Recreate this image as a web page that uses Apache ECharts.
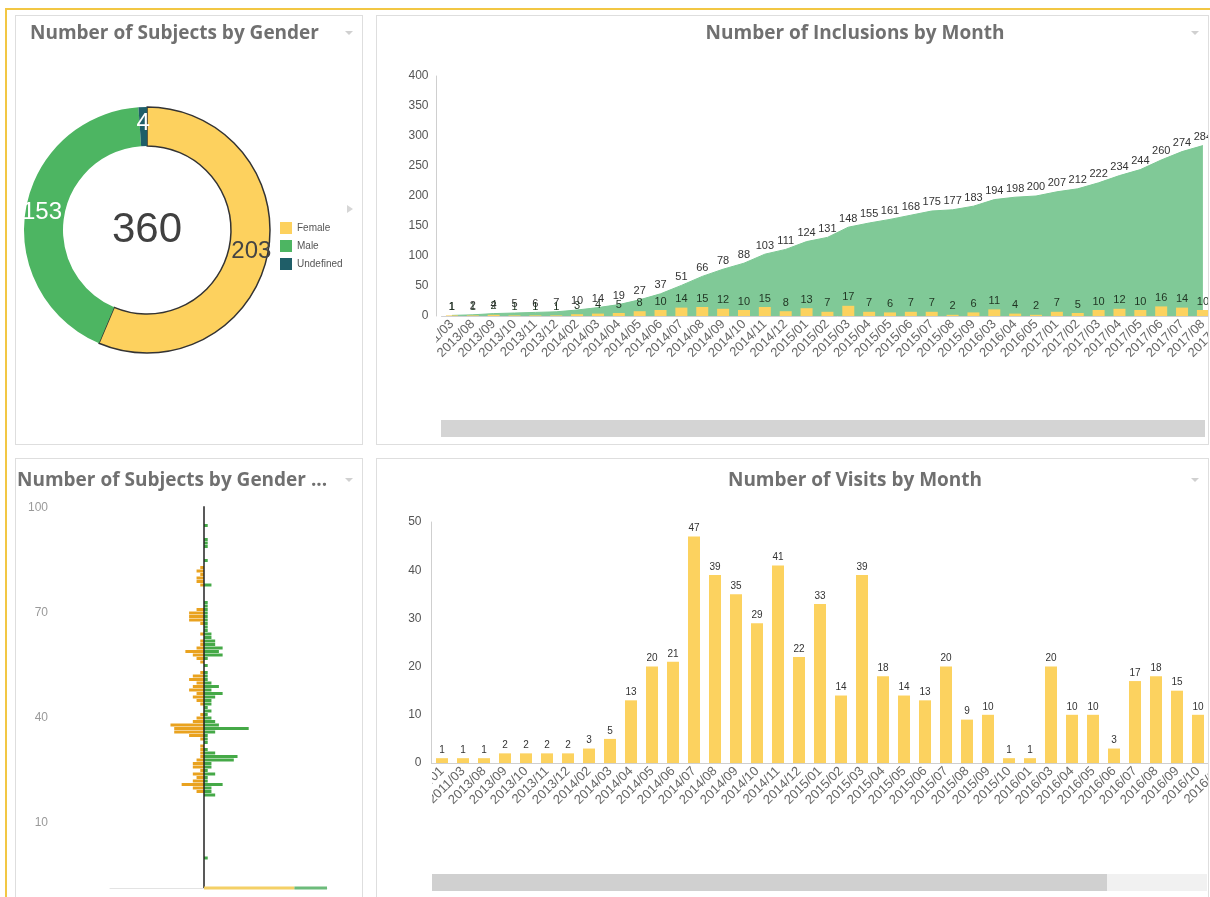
<!DOCTYPE html>
<html>
<head>
<meta charset="utf-8">
<script src="https://cdn.jsdelivr.net/npm/echarts@6/dist/echarts.min.js"></script>
<style>
  html, body { margin: 0; padding: 0; background: #fff; }
  body { width: 1210px; height: 897px; overflow: hidden; position: relative; font-family: "Liberation Sans", Arial, sans-serif; }
  .frame { position: absolute; left: 5px; top: 8px; width: 1230px; height: 920px; border-left: 2px solid #F2C744; border-top: 2px solid #F2C744; }
  .panel { position: absolute; border: 1px solid #dedede; overflow: hidden; background: #fff; }
  .chart { position: absolute; left: 0; top: 0; }
</style>
</head>
<body>
<div class="frame"></div>
<div class="panel" style="left:15px;top:15px;width:346px;height:428px;">
  <div id="gender" class="chart" style="width:346px;height:428px;"></div>
</div>
<div class="panel" style="left:376px;top:15px;width:831px;height:428px;">
  <div id="inclusions" class="chart" style="width:956px;height:428px;"></div>
</div>
<div class="panel" style="left:15px;top:458px;width:346px;height:470px;">
  <div id="pyramid" class="chart" style="width:346px;height:470px;"></div>
</div>
<div class="panel" style="left:376px;top:458px;width:831px;height:470px;">
  <div id="visits" class="chart" style="width:956px;height:470px;"></div>
</div>

<script>
// ---- Subjects by gender ----
const genderNames = ['Female', 'Male', 'Undefined'];
const genderCounts = [203, 153, 4];

// ---- Inclusions per month ----
const inclusionMonths = ['2011/03', '2013/08', '2013/09', '2013/10', '2013/11', '2013/12', '2014/02', '2014/03',
  '2014/04', '2014/05', '2014/06', '2014/07', '2014/08', '2014/09', '2014/10', '2014/11', '2014/12', '2015/01',
  '2015/02', '2015/03', '2015/04', '2015/05', '2015/06', '2015/07', '2015/08', '2015/09', '2016/03', '2016/04',
  '2016/05', '2017/01', '2017/02', '2017/03', '2017/04', '2017/05', '2017/06', '2017/07', '2017/08', '2017/09'];
const inclusionsPerMonth = [1, 1, 2, 1, 1, 1, 3, 4, 5, 8, 10, 14, 15, 12, 10, 15, 8, 13, 7, 17, 7, 6, 7, 7, 2, 6,
  11, 4, 2, 7, 5, 10, 12, 10, 16, 14, 10];
const inclusionTicks = { min: 0, max: 400, step: 50 };

// ---- Visits per month ----
const visitMonths = ['2011/01', '2011/03', '2013/08', '2013/09', '2013/10', '2013/11', '2013/12', '2014/02',
  '2014/03', '2014/04', '2014/05', '2014/06', '2014/07', '2014/08', '2014/09', '2014/10', '2014/11', '2014/12',
  '2015/01', '2015/02', '2015/03', '2015/04', '2015/05', '2015/06', '2015/07', '2015/08', '2015/09', '2015/10',
  '2016/01', '2016/03', '2016/04', '2016/05', '2016/06', '2016/07', '2016/08', '2016/09', '2016/10', '2016/11'];
const visitsPerMonth = [1, 1, 1, 2, 2, 2, 2, 3, 5, 13, 20, 21, 47, 39, 35, 29, 41, 22, 33, 14, 39, 18, 14, 13, 20,
  9, 10, 1, 1, 20, 10, 10, 3, 17, 18, 15, 10];
const visitTicks = { min: 0, max: 50, step: 10 };

// ---- Subjects by gender and age (index = age in years, 0..100) ----
const femaleByAge = [
  0, 0, 0, 0, 0, 0, 0, 0, 0, 0,      // 0-9
  0, 0, 0, 0, 0, 0, 0, 0, 0, 2,      // 10-19
  3, 6, 3, 2, 3, 1, 3, 3, 2, 1,      // 20-29
  1, 1, 1, 0, 1, 4, 8, 8, 9, 3,      // 30-39
  2, 1, 0, 0, 1, 2, 3, 2, 4, 3,      // 40-49
  2, 4, 3, 1, 0, 0, 1, 2, 3, 5,      // 50-59
  2, 1, 1, 0, 1, 0, 0, 1, 4, 4,      // 60-69
  4, 2, 0, 0, 0, 0, 0, 0, 1, 2,      // 70-79
  2, 1, 2, 1, 0, 0, 0, 0, 0, 0,      // 80-89
  0, 0, 0, 0, 0, 0, 0, 0, 0, 0,      // 90-99
  0];                                // 100
const maleByAge = [
  1, 0, 0, 0, 0, 0, 0, 0, 0, 0,      // 0-9
  0, 0, 0, 0, 0, 0, 0, 0, 3, 2,      // 10-19
  2, 5, 1, 1, 3, 1, 2, 2, 8, 9,      // 20-29
  3, 1, 0, 1, 1, 1, 3, 12, 4, 3,     // 30-39
  2, 1, 2, 1, 2, 2, 3, 5, 2, 4,      // 40-49
  2, 1, 1, 1, 0, 1, 0, 1, 5, 4,      // 50-59
  5, 3, 3, 2, 2, 1, 1, 1, 1, 1,      // 60-69
  1, 1, 1, 1, 0, 0, 0, 0, 2, 0,      // 70-79
  0, 0, 0, 0, 0, 1, 0, 0, 0, 1,      // 80-89
  1, 1, 0, 0, 0, 1, 0, 0, 0, 0,      // 90-99
  0];                                // 100
const ageTickLabels = [10, 40, 70, 100];
const noAgeFemale = 25;
const noAgeMale = 9;

const TITLE_STYLE = { fontFamily: 'Open Sans', fontWeight: 'bold', fontSize: 19, color: '#707070', lineHeight: 22 };
const LABEL_FONT = 'Liberation Sans';

function chevron(cx, cy) {
  return { type: 'polygon', z: 100, shape: { points: [[cx - 4, cy - 2], [cx + 4, cy - 2], [cx, cy + 2]] },
    style: { fill: '#d0d0d0' } };
}

// ---------- donut ----------
(function () {
  const total = genderCounts.reduce((a, b) => a + b, 0);
  const sliceColors = ['#FDD15E', '#4DB562', '#1F5E68'];
  const labelColors = ['#444444', '#ffffff', '#ffffff'];
  const chart = echarts.init(document.getElementById('gender'), null, { renderer: 'canvas' });
  chart.setOption({
    animation: false,
    title: { text: 'Number of Subjects by Gender', left: 14, top: 7, padding: 0, textStyle: TITLE_STYLE },
    legend: {
      orient: 'vertical', left: 264, top: 206, itemWidth: 12, itemHeight: 12, itemGap: 6, icon: 'rect',
      padding: 0, data: genderNames, itemStyle: { borderWidth: 0 },
      textStyle: { fontSize: 10, color: '#555', fontFamily: LABEL_FONT }
    },
    graphic: [
      { type: 'text', z: 100, style: { text: String(total), x: 131, y: 214, textAlign: 'center', textVerticalAlign: 'middle',
        font: '42px "Liberation Sans"', fill: '#404040' } },
      { type: 'polygon', z: 100, shape: { points: [[331, 189], [337, 193], [331, 197]] }, style: { fill: '#d6d6d6' } },
      chevron(333, 17)
    ],
    series: [{
      type: 'pie', radius: [84, 123], center: [131, 214], startAngle: 90, clockwise: true,
      avoidLabelOverlap: false, labelLine: { show: false },
      label: { show: true, position: 'inside', formatter: '{c}', fontSize: 24, fontFamily: LABEL_FONT },
      emphasis: { disabled: true },
      data: genderNames.map((n, i) => ({
        name: n, value: genderCounts[i],
        itemStyle: i === 0 ? { color: sliceColors[i], borderColor: '#333', borderWidth: 1.5 } : { color: sliceColors[i], borderWidth: 0 },
        label: { color: labelColors[i] }
      }))
    }]
  });
})();

// ---------- inclusions by month ----------
(function () {
  const cumulative = [];
  inclusionsPerMonth.reduce((acc, v) => { acc += v; cumulative.push(acc); return acc; }, 0);
  const chart = echarts.init(document.getElementById('inclusions'), null, { renderer: 'canvas' });
  chart.setOption({
    animation: false,
    title: { text: 'Number of Inclusions by Month', left: 'center', top: 7, padding: 0, textStyle: TITLE_STYLE },
    grid: { left: 64.5, top: 60, width: 792.7, height: 240, containLabel: false, outerBoundsMode: 'none' },
    xAxis: {
      type: 'category', data: inclusionMonths, boundaryGap: true,
      axisLine: { lineStyle: { color: '#cfcfcf' } }, axisTick: { show: false },
      axisLabel: { interval: 0, rotate: 45, fontSize: 13, color: '#666', margin: 6, fontFamily: LABEL_FONT }
    },
    yAxis: {
      type: 'value', min: inclusionTicks.min, max: inclusionTicks.max, interval: inclusionTicks.step, offset: 5,
      axisLine: { show: true, lineStyle: { color: '#cfcfcf' } }, axisTick: { show: false }, splitLine: { show: false },
      axisLabel: { fontSize: 12, color: '#555', margin: 8, fontFamily: LABEL_FONT }
    },
    series: [
      {
        type: 'line', data: cumulative, symbol: 'circle', symbolSize: 0.1, showSymbol: true, showAllSymbol: true,
        itemStyle: { color: 'rgba(0,0,0,0)' },
        lineStyle: { width: 1, color: '#7cc894' }, areaStyle: { color: '#80C997', opacity: 1 },
        label: { show: true, position: 'top', distance: 3, fontSize: 11, color: '#333', fontFamily: LABEL_FONT },
        z: 2, emphasis: { disabled: true }
      },
      {
        type: 'bar', data: inclusionsPerMonth, barWidth: 12, itemStyle: { color: '#FCD25F' },
        label: { show: true, position: 'top', distance: 3, fontSize: 11, color: '#1f3322', fontFamily: LABEL_FONT },
        z: 3, emphasis: { disabled: true }
      }
    ],
    graphic: [
      { type: 'rect', z: 100, shape: { x: 0, y: 308, width: 59, height: 95 }, style: { fill: '#fff' } },
      { type: 'rect', z: 100, shape: { x: 64, y: 404, width: 764, height: 17 }, style: { fill: '#d4d4d4' } },
      chevron(818, 17)
    ]
  });
})();

// ---------- gender by age ----------
(function () {
  const ages = femaleByAge.map((_, i) => String(i));
  const chart = echarts.init(document.getElementById('pyramid'), null, { renderer: 'canvas' });
  chart.setOption({
    animation: false,
    title: { text: 'Number of Subjects by Gender ...', left: 1, top: 11, padding: 0, textStyle: TITLE_STYLE },
    grid: [
      { left: 39, top: 47.25, width: 298, height: 353.5, containLabel: false, outerBoundsMode: 'none' },
      { left: 94, top: 401, width: 217, height: 28, containLabel: false, outerBoundsMode: 'none' }
    ],
    xAxis: [
      { gridIndex: 0, type: 'value', min: -40, max: 40, show: false },
      { gridIndex: 1, type: 'value', min: -26, max: 34, axisLine: { show: true, onZero: false, lineStyle: { color: '#e3e3e3' } },
        axisTick: { show: false }, axisLabel: { show: false }, splitLine: { show: false } }
    ],
    yAxis: [
      { gridIndex: 0, type: 'category', data: ages, axisLine: { show: false }, axisTick: { show: false }, splitLine: { show: false },
        axisLabel: { interval: (i) => ageTickLabels.indexOf(Number(ages[i])) >= 0, color: '#9a9a9a', fontSize: 12, margin: 7, fontFamily: LABEL_FONT } },
      { gridIndex: 1, type: 'category', data: ['', ''], boundaryGap: false,
        axisLine: { show: true, onZero: true, lineStyle: { color: '#222', width: 1.5 } },
        axisTick: { show: false }, axisLabel: { show: false }, splitLine: { show: false } }
    ],
    series: [
      { type: 'bar', name: 'Female', xAxisIndex: 0, yAxisIndex: 0, data: femaleByAge.map(v => -v), barWidth: 3, barGap: '-100%',
        itemStyle: { color: '#E9A21F' }, emphasis: { disabled: true },
        markLine: { silent: true, symbol: ['none', 'none'], label: { show: false }, animation: false,
          lineStyle: { color: '#222', width: 1.5, type: 'solid' }, data: [{ xAxis: 0 }] } },
      { type: 'bar', name: 'Male', xAxisIndex: 0, yAxisIndex: 0, data: maleByAge, barWidth: 3, barGap: '-100%',
        itemStyle: { color: '#45A947' }, emphasis: { disabled: true } },
      { type: 'bar', xAxisIndex: 1, yAxisIndex: 1, stack: 'noAge', data: [noAgeFemale, null], barWidth: 3, clip: false,
        itemStyle: { color: '#F4D066' }, emphasis: { disabled: true } },
      { type: 'bar', xAxisIndex: 1, yAxisIndex: 1, stack: 'noAge', data: [noAgeMale, null], barWidth: 3, clip: false,
        itemStyle: { color: '#6CBB7B' }, emphasis: { disabled: true } }
    ],
    graphic: [chevron(333, 21)]
  });
})();

// ---------- visits by month ----------
(function () {
  const chart = echarts.init(document.getElementById('visits'), null, { renderer: 'canvas' });
  chart.setOption({
    animation: false,
    title: { text: 'Number of Visits by Month', left: 'center', top: 11, padding: 0, textStyle: TITLE_STYLE },
    grid: { left: 54.5, top: 63, width: 798, height: 241, containLabel: false, outerBoundsMode: 'none' },
    xAxis: {
      type: 'category', data: visitMonths, boundaryGap: true,
      axisLine: { lineStyle: { color: '#cfcfcf' } }, axisTick: { show: false },
      axisLabel: { interval: 0, rotate: 45, fontSize: 13, color: '#666', margin: 6, fontFamily: LABEL_FONT }
    },
    yAxis: {
      type: 'value', min: visitTicks.min, max: visitTicks.max, interval: visitTicks.step,
      axisLine: { show: true, lineStyle: { color: '#cfcfcf' } }, axisTick: { show: false }, splitLine: { show: false },
      axisLabel: { fontSize: 12, color: '#555', margin: 10, fontFamily: LABEL_FONT }
    },
    series: [{
      type: 'bar', data: visitsPerMonth, barWidth: 12, itemStyle: { color: '#FCD25F' },
      label: { show: true, position: 'top', distance: 3, fontSize: 10, color: '#333', fontFamily: LABEL_FONT },
      emphasis: { disabled: true }
    }],
    graphic: [
      { type: 'rect', z: 100, shape: { x: 0, y: 312, width: 55, height: 100 }, style: { fill: '#fff' } },
      { type: 'rect', z: 100, shape: { x: 55, y: 415, width: 775, height: 17 }, style: { fill: '#f1f1f1' } },
      { type: 'rect', z: 101, shape: { x: 55, y: 415, width: 675, height: 17 }, style: { fill: '#d0d0d0' } },
      chevron(818, 21)
    ]
  });
})();
</script>
</body>
</html>
